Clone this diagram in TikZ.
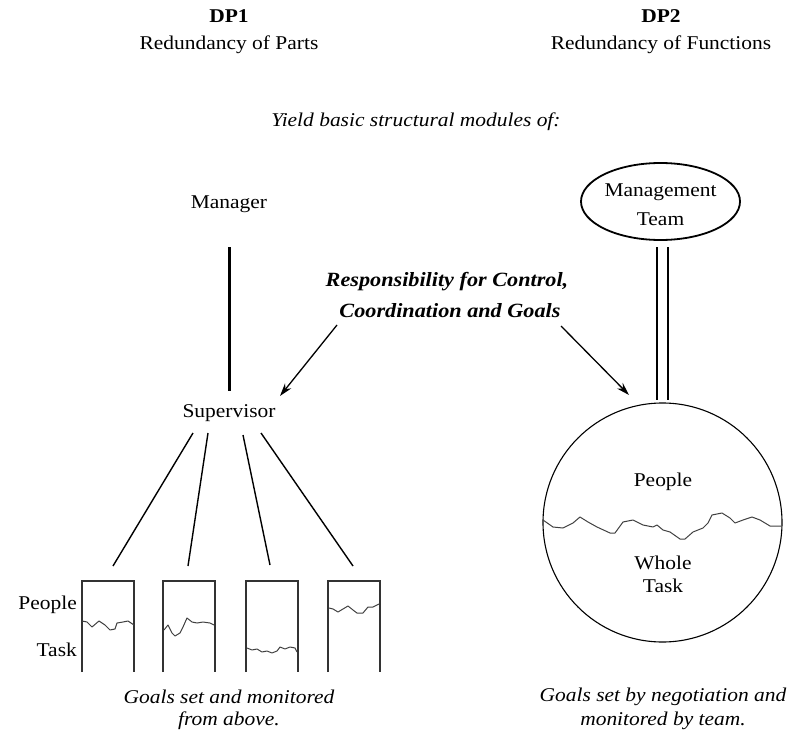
\documentclass[tikz,border=0pt]{standalone}
\usepackage{fontspec}
\setmainfont{Liberation Serif}[FakeStretch=1.1]
\usetikzlibrary{arrows.meta,shapes.geometric}
\begin{document}
\begin{tikzpicture}[x=1pt,y=-1pt,
  txt/.style={inner sep=0pt,font=\fontsize{19.5}{22}\selectfont},
  ttl/.style={txt,font=\fontsize{19.5}{22}\selectfont\bfseries},
  itx/.style={txt,font=\fontsize{19.5}{22}\selectfont\itshape},
  bitx/.style={txt,font=\fontsize{20.2}{22}\selectfont\bfseries\itshape},
  link/.style={line width=1.4pt},
  arr/.style={line width=1.3pt,-{Stealth[length=13pt,width=8pt]}},
  wave/.style={line width=1pt,black!75,line join=round},
  boxside/.style={line width=1.5pt,black!80}]
\useasboundingbox (0,0) rectangle (794,738);
% headings
\node[ttl] (dp1) at (229,16) {DP1};
\node[txt] (rp) at (229,45) {Redundancy of Parts};
\node[ttl] (dp2) at (661,16) {DP2};
\node[txt] (rf) at (661,45) {Redundancy of Functions};
\node[itx] (yield) at (416,122) {Yield basic structural modules of:};
% left side
\node[txt] (mgr) at (229,204) {Manager};
\node[txt] (sup) at (229,413) {Supervisor};
\coordinate (m1) at (229,247);
\coordinate (m2) at (229,391);
\draw[line width=3pt] (m1) -- (m2);
% responsibility
\node[bitx] (resp1) at (447,282) {Responsibility for Control,};
\node[bitx] (resp2) at (450,311) {Coordination and Goals};
\coordinate (a1s) at (337,325);
\coordinate (a1e) at (280,396);
\coordinate (a2s) at (561,326);
\coordinate (a2e) at (629,395);
\draw[arr] (a1s) -- (a1e);
\draw[arr] (a2s) -- (a2e);
% supervisor links
\coordinate (s1) at (193,433); \coordinate (t1) at (113,566);
\coordinate (s2) at (208,433); \coordinate (t2) at (188,566);
\coordinate (s3) at (243,435); \coordinate (t3) at (270,565);
\coordinate (s4) at (261,433); \coordinate (t4) at (353,566);
\draw[link] (s1) -- (t1);
\draw[link] (s2) -- (t2);
\draw[link] (s3) -- (t3);
\draw[link] (s4) -- (t4);
% boxes (open at the bottom)
\foreach \l/\r in {82/134,163/215,246/298,328/380}{
  \draw[boxside] (\l,672) -- (\l,581) -- (\r,581) -- (\r,672);
}
\draw[wave] (82,621)--(87,622)--(92,627)--(99,621)--(105,625)--(110,630)--(115,629)--(117,623)--(123,622)--(128,621)--(134,625);
\draw[wave] (164,630)--(168,625)--(172,633)--(175,636)--(180,633)--(183,627)--(187,618)--(192,622)--(197,623)--(203,622)--(210,623)--(214,625);
\draw[wave] (247,648)--(252,650)--(257,649)--(262,652)--(267,651)--(272,653)--(277,651)--(280,647)--(285,649)--(290,647)--(295,648)--(297,652);
\draw[wave] (329,608)--(333,609)--(338,612)--(343,609)--(348,606)--(353,610)--(357,613)--(363,613)--(368,607)--(373,607)--(379,604);
\node[txt,anchor=east] (pl) at (77,605) {People};
\node[txt,anchor=east] (tk) at (77,650) {Task};
\node[itx] (g1) at (229,697) {Goals set and monitored};
\node[itx] (g2) at (229,721) {from above.};
% right side
\node[draw,ellipse,line width=1.8pt,minimum width=159pt,minimum height=77pt,inner sep=0pt] (team) at (660.5,201.5) {};
\node[txt] (mt1) at (660.5,192) {Management};
\node[txt] (mt2) at (660.5,219) {Team};
\node[draw,circle,line width=1.1pt,minimum size=239pt,inner sep=0pt] (circ) at (662.5,522.5) {};
\coordinate (d1a) at (657,247); \coordinate (d1b) at (657,400);
\coordinate (d2a) at (668,247); \coordinate (d2b) at (668,400);
\draw[line width=1.5pt] (d1a) -- (d1b);
\draw[line width=1.5pt] (d2a) -- (d2b);
\draw[wave] (543,520)--(553,527)--(563,528)--(573,523)--(580,517)--(588,522)--(597,527)--(610,533)--(615,533)--(623,522)--(633,520)--(643,525)--(653,527)--(657,525)--(663,530)--(670,532)--(680,539)--(685,539)--(693,532)--(703,528)--(708,523)--(712,515)--(722,513)--(730,518)--(735,523)--(743,520)--(752,517)--(760,520)--(770,526)--(781,526);
\node[txt] (cp) at (663,482) {People};
\node[txt] (cw) at (663,563) {Whole};
\node[txt] (ct) at (663,586) {Task};
\node[itx] (g3) at (663,697) {Goals set by negotiation and};
\node[itx] (g4) at (663,721) {monitored by team.};
\end{tikzpicture}
\end{document}
